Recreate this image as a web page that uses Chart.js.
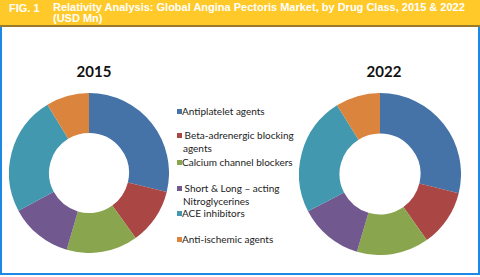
<!DOCTYPE html>
<html><head><meta charset="utf-8">
<script src="https://cdn.jsdelivr.net/npm/chart.js@4"></script>
<style>
html,body{margin:0;padding:0;background:#fff;}
#wrap{position:relative;width:480px;height:277px;overflow:hidden;font-family:"Liberation Sans",Arial,sans-serif;}
#hdr{position:absolute;left:0;top:0;width:480px;height:25px;background:#FFC929;border-bottom:2px solid #9C7A2A;}
#fig{position:absolute;left:9px;top:2px;color:#fff;font-weight:bold;font-size:11px;}
#ttl{position:absolute;left:53px;top:2px;width:425px;color:#fff;font-weight:bold;font-size:11px;line-height:11px;}
#frame{position:absolute;left:0;top:27px;width:476px;height:246px;border:2px solid #1E88E5;border-top:none;}
canvas{position:absolute;}
.yr{position:absolute;font-family:Lato,"Open Sans",sans-serif;font-weight:bold;font-size:15px;color:#111;transform:translateX(-50%);}
.lg{position:absolute;font-family:Lato,"Open Sans",sans-serif;font-size:10px;color:#222;line-height:13px;}
.sq{position:absolute;width:5px;height:5px;}
</style></head>
<body><div id="wrap">
<div id="hdr"><div id="fig">FIG. 1</div><div id="ttl">Relativity Analysis: Global Angina Pectoris Market, by Drug Class, 2015 &amp; 2022 (USD Mn)</div></div>
<div id="frame"></div>
<div class="yr" id="y1" style="left:94px;top:62px;"></div>
<div class="yr" id="y2" style="left:384px;top:62px;"></div>
<canvas id="c1" width="160" height="160" style="left:9px;top:93px;"></canvas>
<canvas id="c2" width="162" height="162" style="left:299px;top:93px;"></canvas>
<div id="legend"></div>
</div>
<script>
const categories = ["Antiplatelet agents","Beta-adrenergic blocking agents","Calcium channel blockers","Short & Long \u2013 acting Nitroglycerines","ACE inhibitors","Anti-ischemic agents"];
const years = ["2015","2022"];
const values2015 = [28.8, 11.3, 14.4, 12.7, 24.1, 8.7];
const values2022 = [28.8, 11.4, 14.4, 12.8, 23.7, 8.9];
const colors = ["#4572A7","#AA4643","#89A54E","#71588F","#4198AF","#DB843D"];

document.getElementById('y1').textContent = years[0];
document.getElementById('y2').textContent = years[1];

const legendLines = [["Antiplatelet agents"],[" Beta-adrenergic blocking","agents"],["Calcium channel blockers"],[" Short & Long \u2013 acting","Nitroglycerines"],["ACE inhibitors"],["Anti-ischemic agents"]];
const legendTops = [105, 129, 156, 182, 207, 233];
const lg = document.getElementById('legend');
legendLines.forEach((lines, i) => {
  const sq = document.createElement('div');
  sq.className = 'sq'; sq.style.background = colors[i];
  sq.style.left = '177px'; sq.style.top = (legendTops[i] + 4) + 'px';
  lg.appendChild(sq);
  const t = document.createElement('div');
  t.className = 'lg'; t.style.left = '182px'; t.style.top = legendTops[i] + 'px';
  t.style.whiteSpace = 'pre';
  t.textContent = lines[0];
  lg.appendChild(t);
  if (lines[1]) {
    const t2 = document.createElement('div');
    t2.className = 'lg'; t2.style.left = '183px'; t2.style.top = (legendTops[i] + 13) + 'px';
    t2.textContent = lines[1];
    lg.appendChild(t2);
  }
});

function donut(id, vals) {
  new Chart(document.getElementById(id), {
    type: 'doughnut',
    data: { labels: categories, datasets: [{ data: vals, backgroundColor: colors, borderWidth: 0 }] },
    options: {
      responsive: false, animation: false, cutout: '50%',
      layout: { padding: 0 },
      plugins: { legend: { display: false }, tooltip: { enabled: false }, title: { display: false } }
    }
  });
}
donut('c1', values2015);
donut('c2', values2022);
</script>
</body></html>
